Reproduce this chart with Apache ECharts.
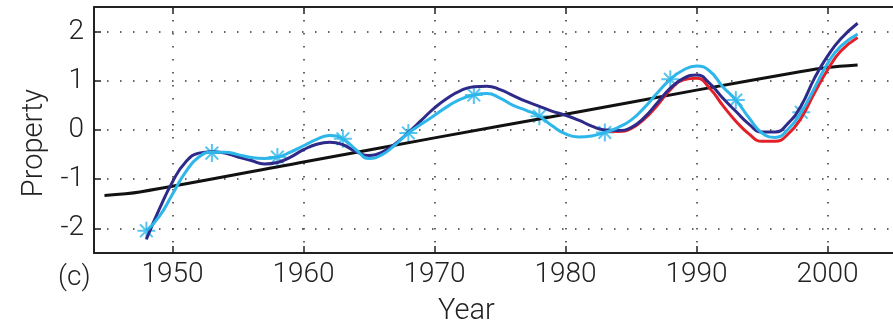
<!DOCTYPE html>
<html>
<head>
<meta charset="utf-8">
<script src="https://cdn.jsdelivr.net/npm/echarts@6/dist/echarts.min.js"></script>
<style>
  html, body { margin: 0; padding: 0; background: #fff; }
  #chart { width: 893px; height: 331px; }
</style>
</head>
<body>
<div id="chart"></div>
<script>
var xTicks = [1950, 1960, 1970, 1980, 1990, 2000];
var yTicks = [-2, -1, 0, 1, 2];

var years = [1948, 1949, 1950, 1951, 1952, 1953, 1954, 1955, 1956, 1957, 1958, 1959,
  1960, 1961, 1962, 1963, 1964, 1965, 1966, 1967, 1968, 1969, 1970, 1971, 1972, 1973,
  1974, 1975, 1976, 1977, 1978, 1979, 1980, 1981, 1982, 1983, 1984, 1985, 1986, 1987,
  1988, 1989, 1990, 1991, 1992, 1993, 1994, 1995, 1996, 1997, 1998, 1999, 2000, 2001, 2002.3];

var cyanValues = [-2.05, -1.75, -1.3, -0.85, -0.55, -0.45, -0.45, -0.5, -0.56, -0.58, -0.55, -0.45,
  -0.32, -0.19, -0.11, -0.18, -0.4, -0.58, -0.5, -0.3, -0.06, 0.12, 0.3, 0.48, 0.63, 0.71,
  0.74, 0.65, 0.5, 0.4, 0.28, 0.08, -0.08, -0.14, -0.12, -0.05, 0.05, 0.2, 0.45, 0.75,
  1.03, 1.22, 1.3, 1.2, 0.88, 0.61, 0.25, -0.06, -0.15, 0.02, 0.36, 0.85, 1.35, 1.7, 1.95];

var navyValues = [-2.22, -1.6, -1.05, -0.65, -0.47, -0.44, -0.47, -0.55, -0.62, -0.69, -0.66, -0.55,
  -0.4, -0.29, -0.25, -0.3, -0.44, -0.52, -0.45, -0.28, -0.05, 0.2, 0.45, 0.65, 0.8, 0.88,
  0.89, 0.82, 0.7, 0.58, 0.48, 0.38, 0.3, 0.2, 0.08, 0.0, -0.01, 0.05, 0.25, 0.55,
  0.85, 1.05, 1.12, 0.95, 0.65, 0.38, 0.12, -0.04, -0.04, 0.14, 0.5, 1.05, 1.5, 1.85, 2.17];

var redYears = [1983, 1984, 1985, 1986, 1987, 1988, 1989, 1990, 1991, 1992, 1993, 1994,
  1995, 1996, 1997, 1998, 1999, 2000, 2001, 2002.3];
var redValues = [-0.02, -0.03, 0.03, 0.22, 0.5, 0.82, 1.02, 1.05, 0.85, 0.5, 0.18, -0.08,
  -0.23, -0.23, -0.08, 0.25, 0.75, 1.22, 1.6, 1.88];

var trendYears = [1944.8, 1947.5, 1960, 1970, 1980, 1990, 1998, 2000, 2002.3];
var trendValues = [-1.33, -1.26, -0.65, -0.16, 0.32, 0.81, 1.19, 1.27, 1.32];

var markerYears = [1948, 1953, 1958, 1963, 1968, 1973, 1978, 1983, 1988, 1993, 1998];
var markerValues = [-2.05, -0.47, -0.55, -0.18, -0.06, 0.71, 0.28, -0.05, 1.03, 0.61, 0.36];

function pairs(xs, ys) {
  return xs.map(function (x, i) { return [x, ys[i]]; });
}

var font = 'Roboto';
var ink = '#222';
var asterisk = 'path://M0,-10L0,10M-10,0L10,0M-7,-7L7,7M-7,7L7,-7';

var chart = echarts.init(document.getElementById('chart'));
var option = {
  animation: false,
  grid: { left: 94, right: -3, top: 7, bottom: 76 },
  graphic: [{
    type: 'text', left: 58, top: 264,
    style: { text: '(c)', font: '300 28px Roboto', fill: ink }
  }],
  xAxis: [{
    type: 'value', min: 1944, max: 2005,
    name: 'Year', nameLocation: 'middle', nameGap: 44,
    nameTextStyle: { fontFamily: font, fontWeight: 300, fontSize: 29, color: ink, padding: [0, 54, 0, 0] },
    axisLine: { show: true, onZero: false, lineStyle: { color: ink, width: 2 } },
    axisTick: { show: true, inside: true, length: 7, customValues: xTicks, lineStyle: { color: ink, width: 1.5 } },
    axisLabel: { customValues: xTicks, margin: 8, fontFamily: font, fontWeight: 300, fontSize: 28, color: ink,
      formatter: function (v) { return String(v); } },
    splitLine: { show: true, lineStyle: { color: '#333', width: 1.5, type: [1.5, 11.5] } }
  }, {
    type: 'value', min: 1944, max: 2005, position: 'top',
    axisLine: { show: true, onZero: false, lineStyle: { color: ink, width: 2 } },
    axisTick: { show: true, inside: true, length: 7, customValues: xTicks, lineStyle: { color: ink, width: 1.5 } },
    axisLabel: { show: false },
    splitLine: { show: false }
  }],
  yAxis: {
    type: 'value', min: -2.5, max: 2.5,
    name: 'Property', nameLocation: 'middle', nameGap: 36, nameRotate: 90,
    nameTextStyle: { fontFamily: font, fontWeight: 300, fontSize: 29, color: ink, padding: [0, 26, 0, 0] },
    axisLine: { show: true, onZero: false, lineStyle: { color: ink, width: 2 } },
    axisTick: { show: true, inside: true, length: 7, customValues: yTicks, lineStyle: { color: ink, width: 1.5 } },
    axisLabel: { customValues: yTicks, margin: 10, fontFamily: font, fontWeight: 300, fontSize: 28, color: ink,
      formatter: function (v) { return String(v); } },
    splitLine: { show: true, lineStyle: { color: '#333', width: 1.5, type: [1.5, 11.5] } }
  },
  series: [
    { type: 'line', data: pairs(trendYears, trendValues), showSymbol: false, smooth: 0.3,
      lineStyle: { color: '#111', width: 3 } },
    { type: 'line', data: pairs(redYears, redValues), showSymbol: false, smooth: true,
      lineStyle: { color: '#e3202a', width: 3 } },
    { type: 'line', data: pairs(years, navyValues), showSymbol: false, smooth: true,
      lineStyle: { color: '#2e2a8a', width: 3 } },
    { type: 'line', data: pairs(years, cyanValues), showSymbol: false, smooth: true,
      lineStyle: { color: '#2db6ea', width: 3 } },
    { type: 'scatter', data: pairs(markerYears, markerValues), symbol: asterisk, symbolSize: 18,
      itemStyle: { color: 'rgba(0,0,0,0)', borderColor: '#2db6ea', borderWidth: 2 } }
  ]
};
chart.setOption(option);
</script>
</body>
</html>
